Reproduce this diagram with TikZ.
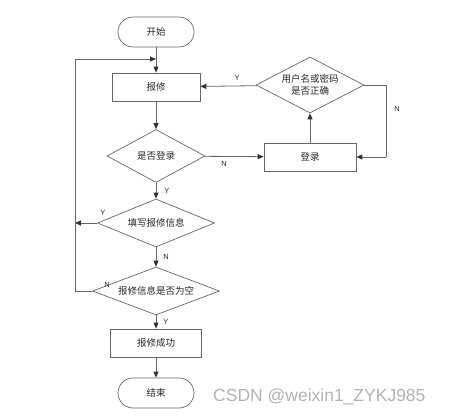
\documentclass[tikz,border=0pt]{standalone}
\usepackage{fontspec}
\setmainfont{Liberation Sans}
\newfontfamily\cjk{Noto Sans CJK SC}
\usetikzlibrary{shapes.geometric,arrows.meta}
\begin{document}
\begin{tikzpicture}[x=1pt,y=-1pt,
  every node/.style={inner sep=0pt},
  cn/.style={font=\cjk\fontsize{9.5}{12}\selectfont, text=black!85},
  box/.style={cn, rectangle, draw=black!60, line width=0.7pt, minimum width=#1, minimum height=28pt},
  term/.style={cn, rectangle, rounded corners=15pt, draw=black!60, line width=0.7pt, minimum width=76pt, minimum height=30pt},
  dia/.style 2 args={diamond, draw=black!60, line width=0.7pt, minimum width=#1, minimum height=#2},
  dtext/.style={cn, align=center},
  line/.style={draw=black!60, line width=0.8pt},
  arr/.style={line, -{Triangle[length=6pt,width=5pt,color=black!80]}},
  lbl/.style={font=\fontsize{7.5}{8}\selectfont, text=black!85}
]
\useasboundingbox (0,0) rectangle (453,417);

\node[term] (start) at (156,32) {开始};
\node[box=88pt] (r1) at (156,87) {报修};
\node[dia={98pt}{53pt}] (d1) at (156,156) {};
\node[dtext] (t1) at (d1) {是否登录};
\node[box=92pt] (r2) at (310,157) {登录};
\node[dia={108pt}{56pt}] (d2) at (310,85) {};
\node[dtext] (t2) at (d2) {用户名或密码\\是否正确};
\node[dia={117pt}{48pt}] (d3) at (156,223) {};
\node[dtext] (t3) at (d3) {填写报修信息};
\node[dia={127pt}{48pt}] (d4) at (156,291) {};
\node[dtext] (t4) at (d4) {报修信息是否为空};
\node[box=91pt] (r3) at (156,343) {报修成功};
\node[term] (end) at (156,393) {结束};

\coordinate (loopTop) at (156,59);
\coordinate (loopTL) at (75,59);
\coordinate (loopBL) at (75,291);
\coordinate (d3L) at (75,223);
\coordinate (nR1) at (386,85);
\coordinate (nR2) at (386,157);

\draw[arr] (start) -- (r1);
\draw[arr] (r1) -- (d1);
\draw[arr] (d1) -- (r2) node[lbl, pos=0.33, below=4pt] {N};
\draw[arr] (r2) -- (d2);
\draw[arr] (d2) -- (r1) node[lbl, pos=0.35, above=5pt] {Y};
\draw[line] (d2.east) -- (nR1) -- (nR2);
\draw[arr] (nR2) -- (r2.east);
\node[lbl] at (397,109) {N};
\draw[arr] (d1) -- (d3) node[lbl, midway, right=8pt] {Y};
\draw[arr] (d3.west) -- (d3L);
\node[lbl] at (103,213) {Y};
\draw[arr] (d3) -- (d4) node[lbl, midway, right=7pt] {N};
\draw[line] (d4.west) -- (loopBL) -- (loopTL);
\draw[arr] (loopTL) -- (loopTop);
\node[lbl] at (107,285) {N};
\draw[arr] (d4) -- (r3) node[lbl, midway, right=7pt] {Y};
\draw[arr] (r3) -- (end);

\node[font=\fontsize{17.5}{20}\selectfont, text=black!30, anchor=west] (wm) at (213,397) {CSDN @weixin1\_ZYKJ985};
\end{tikzpicture}
\end{document}
